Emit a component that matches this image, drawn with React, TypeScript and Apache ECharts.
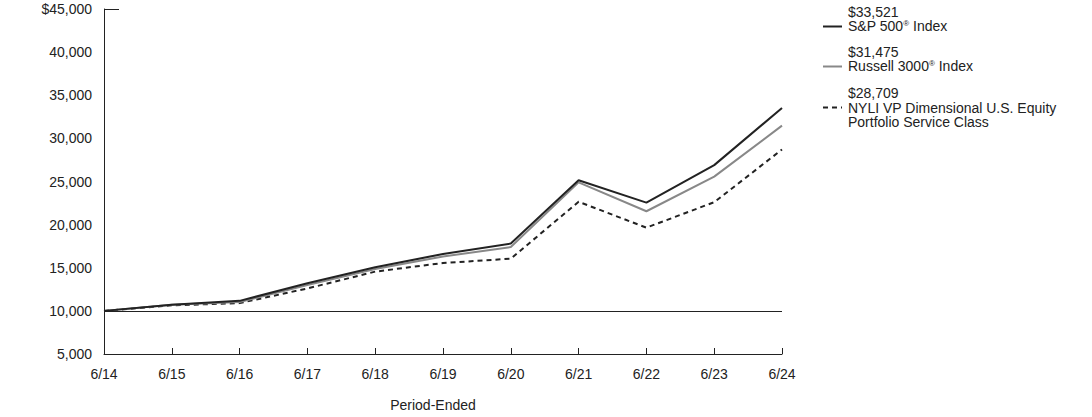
import React, { useEffect, useRef } from "react";
import * as echarts from "echarts";

const categories = ["6/14", "6/15", "6/16", "6/17", "6/18", "6/19", "6/20", "6/21", "6/22", "6/23", "6/24"];
const sp500 = [10000, 10720, 11160, 13200, 15050, 16600, 17800, 25150, 22550, 26900, 33521];
const russell = [10000, 10700, 11020, 13000, 14850, 16300, 17400, 24900, 21550, 25570, 31475];
const fund = [10000, 10640, 10900, 12600, 14550, 15550, 16050, 22650, 19650, 22600, 28709];
const yTicks = { min: 5000, max: 45000, interval: 5000 };

const legendItems = [
  { value: "$33,521", name: ["S&P 500", " Index"], color: "#222", dash: false },
  { value: "$31,475", name: ["Russell 3000", " Index"], color: "#888", dash: false },
  { value: "$28,709", name: ["NYLI VP Dimensional U.S. Equity", "Portfolio Service Class"], color: "#222", dash: true },
];

export default function App() {
  const ref = useRef<HTMLDivElement>(null);
  useEffect(() => {
    const chart = echarts.init(ref.current!, null, { renderer: "svg" });
    const font = "Liberation Sans, Arial, sans-serif";
    const fs = 14;
    const graphics: any[] = [];
    const valueCenters = [12, 52, 93];
    legendItems.forEach((it, i) => {
      const c = valueCenters[i];
      graphics.push({
        type: "text", x: 848, y: c,
        style: { text: it.value, font: `${fs}px ${font}`, fill: "#222", verticalAlign: "middle" },
      });
      if (it.dash) {
        graphics.push({
          type: "text", x: 848, y: c + 8,
          style: { text: it.name[0] + "\n" + it.name[1], font: `${fs}px ${font}`, fill: "#222", lineHeight: 14, verticalAlign: "top" },
        });
      } else {
        graphics.push({
          type: "text", x: 848, y: c + 14,
          style: {
            text: `{a|${it.name[0]}}{s|®}{a|${it.name[1]}}`,
            verticalAlign: "middle",
            rich: {
              a: { font: `${fs}px ${font}`, fill: "#222" },
              s: { font: `8px ${font}`, fill: "#222", verticalAlign: "top", padding: [0, 0, 6, 0] },
            },
          },
        });
      }
      graphics.push({
        type: "line",
        shape: { x1: 823, y1: c + 14.5, x2: 842, y2: c + 14.5 },
        style: { stroke: it.color, lineWidth: 2, lineDash: it.dash ? [5, 4] : null },
      });
    });
    graphics.push({
      type: "line",
      shape: { x1: 104, y1: 9.5, x2: 119, y2: 9.5 },
      style: { stroke: "#222", lineWidth: 1 },
    });

    chart.setOption({
      animation: false,
      textStyle: { fontFamily: font },
      grid: { left: 104, right: 310, top: 9, bottom: 60 },
      xAxis: {
        type: "category",
        data: categories,
        boundaryGap: false,
        axisLine: { lineStyle: { color: "#222", width: 1 } },
        axisTick: { inside: true, length: 6, lineStyle: { color: "#222" } },
        axisLabel: { color: "#222", fontSize: fs, margin: 13 },
        name: "Period-Ended",
        nameLocation: "middle",
        nameGap: 44,
        nameTextStyle: { color: "#222", fontSize: fs, padding: [0, 20, 0, 0] },
      },
      yAxis: {
        type: "value",
        min: yTicks.min,
        max: yTicks.max,
        interval: yTicks.interval,
        axisLine: { show: true, lineStyle: { color: "#222", width: 1 } },
        axisTick: { show: false },
        splitLine: { show: false },
        axisLabel: {
          color: "#222", fontSize: fs, margin: 12,
          formatter: (v: number) => (v === yTicks.max ? "$" : "") + v.toLocaleString("en-US"),
        },
      },
      graphic: graphics,
      series: [
        {
          type: "line", data: fund, symbol: "none",
          lineStyle: { color: "#222", width: 2, type: [5, 4] },
          markLine: {
            silent: true, symbol: "none", label: { show: false },
            lineStyle: { color: "#222", width: 1, type: "solid" },
            data: [{ yAxis: 10000 }],
          },
        },
        { type: "line", data: russell, symbol: "none", lineStyle: { color: "#888", width: 2 } },
        { type: "line", data: sp500, symbol: "none", lineStyle: { color: "#222", width: 2 } },
      ],
    });
    return () => chart.dispose();
  }, []);
  return <div ref={ref} style={{ width: 1092, height: 417, position: "absolute", left: 0, top: 0 }} />;
}
